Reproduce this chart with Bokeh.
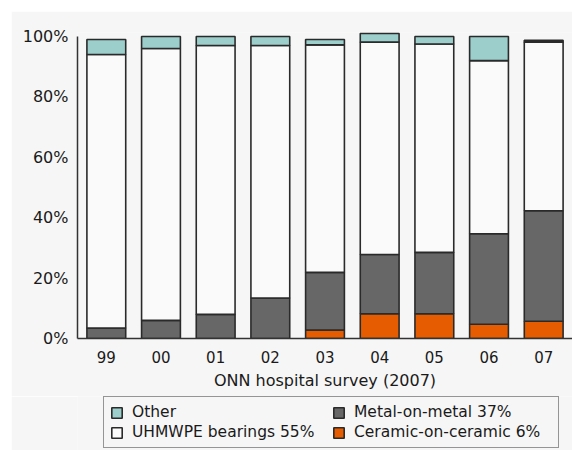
from bokeh.plotting import figure
from bokeh.layouts import column
from bokeh.models import (FactorRange, Range1d, Legend, LegendItem, FixedTicker,
                          PrintfTickFormatter, ColumnDataSource, BoxAnnotation)
from bokeh.embed import file_html
from bokeh.resources import INLINE

years = ["99", "00", "01", "02", "03", "04", "05", "06", "07"]
ceramic = [0, 0, 0, 0, 2.8, 8.2, 8.2, 4.7, 5.7]
metal = [3.5, 6, 8, 13.4, 19.1, 19.6, 20.3, 30.0, 36.6]
uhmwpe = [90.5, 90, 89, 83.6, 75.3, 70.3, 69.0, 57.3, 55.8]
other = [5, 4, 3, 3, 1.8, 2.9, 2.5, 8.0, 0.6]

series = ["ceramic", "metal", "uhmwpe", "other"]
labels = {"other": "Other", "uhmwpe": "UHMWPE bearings 55%",
          "metal": "Metal-on-metal 37%", "ceramic": "Ceramic-on-ceramic 6%"}
colors = ["#e65c00", "#676767", "#fafafa", "#9ccfcb"]

FONT = "DejaVu Sans"
BG = "#f6f6f6"
EDGE = "#2a2a2a"

src = ColumnDataSource(dict(years=years, ceramic=ceramic, metal=metal,
                            uhmwpe=uhmwpe, other=other))

p = figure(width=561, height=385, output_backend="svg", toolbar_location=None,
           x_range=FactorRange(*years, range_padding=0.006),
           y_range=Range1d(0, 101.3),
           background_fill_color=BG, border_fill_color=BG,
           min_border_left=66, min_border_right=0, min_border_top=21,
           min_border_bottom=58, margin=(11, 0, 0, 11))
p.outline_line_color = None

rs = p.vbar_stack(series, x="years", width=0.71, source=src, color=colors,
                  line_color=EDGE, line_width=1.6)

p.xgrid.grid_line_color = None
p.ygrid.grid_line_color = None

p.yaxis.ticker = FixedTicker(ticks=[0, 20, 40, 60, 80, 100])
p.yaxis.formatter = PrintfTickFormatter(format="%d%%")
p.yaxis.bounds = (0, 100)
for ax in (p.xaxis, p.yaxis):
    ax.major_tick_line_color = None
    ax.minor_tick_line_color = None
    ax.major_tick_out = 0
    ax.major_tick_in = 0
    ax.minor_tick_out = 0
    ax.minor_tick_in = 0
    ax.axis_line_color = "#333333"
    ax.axis_line_width = 1.5
    ax.major_label_text_font = FONT
    ax.major_label_text_color = "#1a1a1a"
p.yaxis.major_label_text_font_size = "16px"
p.yaxis.major_label_standoff = 9
p.xaxis.major_label_text_font_size = "15px"
p.xaxis.major_label_standoff = 12
p.xaxis.axis_label = "ONN hospital survey (2007)"
p.xaxis.axis_label_text_font = FONT
p.xaxis.axis_label_text_font_size = "16px"
p.xaxis.axis_label_text_font_style = "normal"
p.xaxis.axis_label_text_color = "#1a1a1a"
p.xaxis.axis_label_standoff = 5

# legend panel below the chart (its frame is aligned with the chart frame);
# its bar renderers lie outside its y range and are covered, so only the legend shows
lp = figure(width=561, height=54, output_backend="svg", toolbar_location=None,
            x_range=FactorRange(*years), y_range=Range1d(250, 350),
            background_fill_color=BG, border_fill_color=BG,
            min_border_left=66, min_border_right=0,
            min_border_top=0, min_border_bottom=0, margin=(0, 0, 0, 11))
lp.outline_line_color = None
lp.axis.visible = False
lp.grid.visible = False
lrs = lp.vbar_stack(series, x="years", width=0.71, source=src, color=colors,
                    line_color=EDGE, line_width=1.6)
dummies = dict(zip(series, lrs))

cover = BoxAnnotation(fill_color=BG, fill_alpha=1.0, line_color=None,
                      line_alpha=0)
lp.add_layout(cover)

order = ["other", "uhmwpe", "metal", "ceramic"]
items = [LegendItem(label=labels[s], renderers=[dummies[s]]) for s in order]
legend = Legend(items=items, ncols=2, location=(26, 2),
                glyph_width=13, glyph_height=13, label_height=16,
                label_width=198, spacing=2, padding=6, margin=0,
                label_standoff=9,
                label_text_font=FONT, label_text_font_size="15.5px",
                label_text_color="#1a1a1a",
                border_line_color="#333333", border_line_width=1.5,
                background_fill_color=BG, background_fill_alpha=1)
lp.add_layout(legend, "center")

layout = column(p, lp, spacing=0)
open("out.html", "w").write(file_html(layout, INLINE))
